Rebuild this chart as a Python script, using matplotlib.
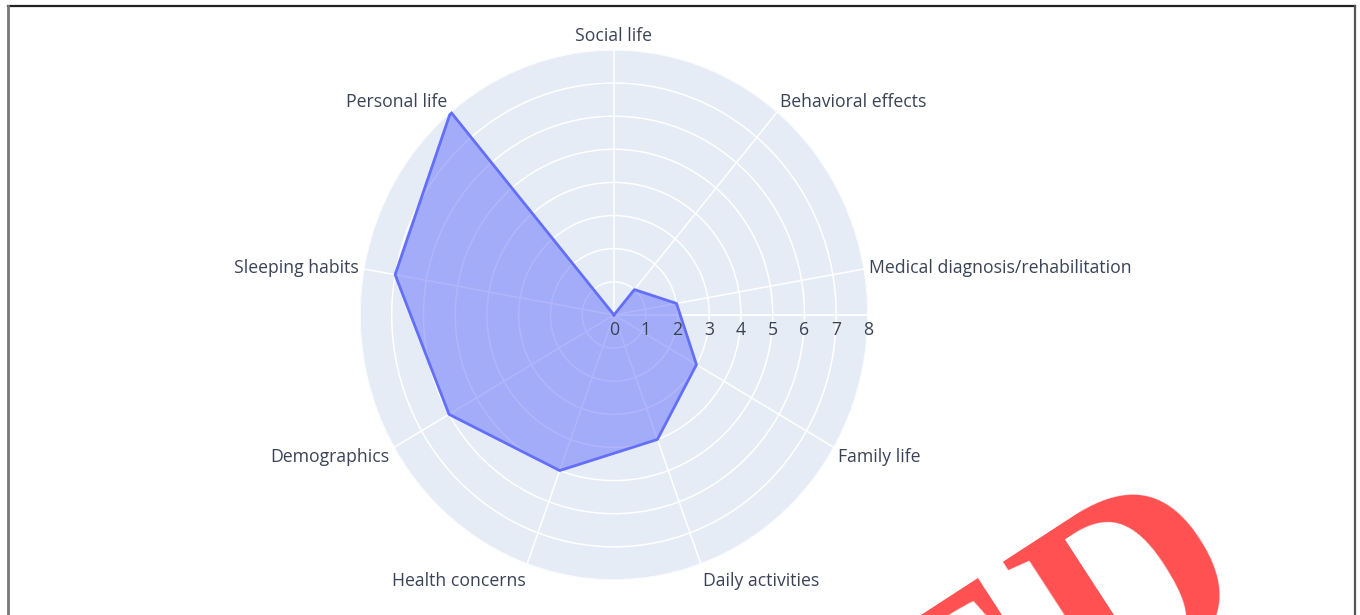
import numpy as np
import matplotlib.pyplot as plt
from matplotlib.lines import Line2D

# data
categories = ['Social life', 'Behavioral effects', 'Medical diagnosis/rehabilitation',
              'Family life', 'Daily activities', 'Health concerns', 'Demographics',
              'Sleeping habits', 'Personal life']
counts = [0, 1, 2, 3, 4, 5, 6, 7, 8]
r_ticks = [0, 1, 2, 3, 4, 5, 6, 7, 8]

plt.rcParams['font.family'] = ['Open Sans', 'DejaVu Sans']
text_col = '#3a4356'
fs = 12.7

fig = plt.figure(figsize=(13.6, 6.15), dpi=100)
ax = fig.add_axes([0.2647, 0.0570, 0.3735, 0.8618], projection='polar')
ax.set_aspect('auto')
ax.set_theta_zero_location('N')
ax.set_theta_direction(-1)
ax.set_facecolor('#e5ecf6')
ax.spines['polar'].set_visible(False)

theta = np.linspace(0, 2 * np.pi, len(categories), endpoint=False)
th = np.append(theta, theta[0])
vals = np.append(counts, counts[0])
ax.fill(th, vals, color='#636efa', alpha=0.5, lw=0, zorder=3)
ax.plot(th, vals, color='#636efa', lw=2, zorder=4)

ax.set_ylim(0, 8)
ax.set_yticks(r_ticks[1:])
ax.set_yticklabels([])
ax.set_xticks(theta)
ax.set_xticklabels([])
ax.grid(color='white', lw=1.1)
ax.tick_params(length=0)
# radial axis line pointing east
ax.plot([np.pi / 2, np.pi / 2], [0, 8], color='white', lw=1.3, zorder=2)

for r in r_ticks:
    ax.annotate(str(r), xy=(np.pi / 2, r), xytext=(0, -6), textcoords='offset pixels',
                ha='center', va='top', fontsize=fs, color=text_col, annotation_clip=False)

for t, cat in zip(theta, categories):
    a = np.pi / 2 - t
    c, s = np.cos(a), np.sin(a)
    ha = 'left' if c > 0.1 else ('right' if c < -0.1 else 'center')
    ax.annotate(cat, xy=(t, 8), xytext=(5 * c, 16 * s - 2), textcoords='offset pixels',
                ha=ha, va='center', fontsize=fs, color=text_col, annotation_clip=False)

# frame around the picture
W, H = 1360, 615
for (x0, y0, x1, y1, col, lw) in [(8, 6, 1355, 6, '#222222', 1.6),
                                  (8, 6, 8, 615, '#777777', 2.0),
                                  (1355, 6, 1355, 615, '#555555', 1.6)]:
    fig.add_artist(Line2D([x0 / W, x1 / W], [1 - y0 / H, 1 - y1 / H],
                          transform=fig.transFigure, color=col, lw=lw))

# red stamp across the corner
fig.text(1260 / W, 1 - 604 / H, 'RETRACTED', rotation=33, rotation_mode='anchor',
         ha='right', va='baseline', fontsize=195, fontweight='bold',
         family='Liberation Serif', color='#ff5050', zorder=10)

fig.savefig('out.png', dpi=100)
